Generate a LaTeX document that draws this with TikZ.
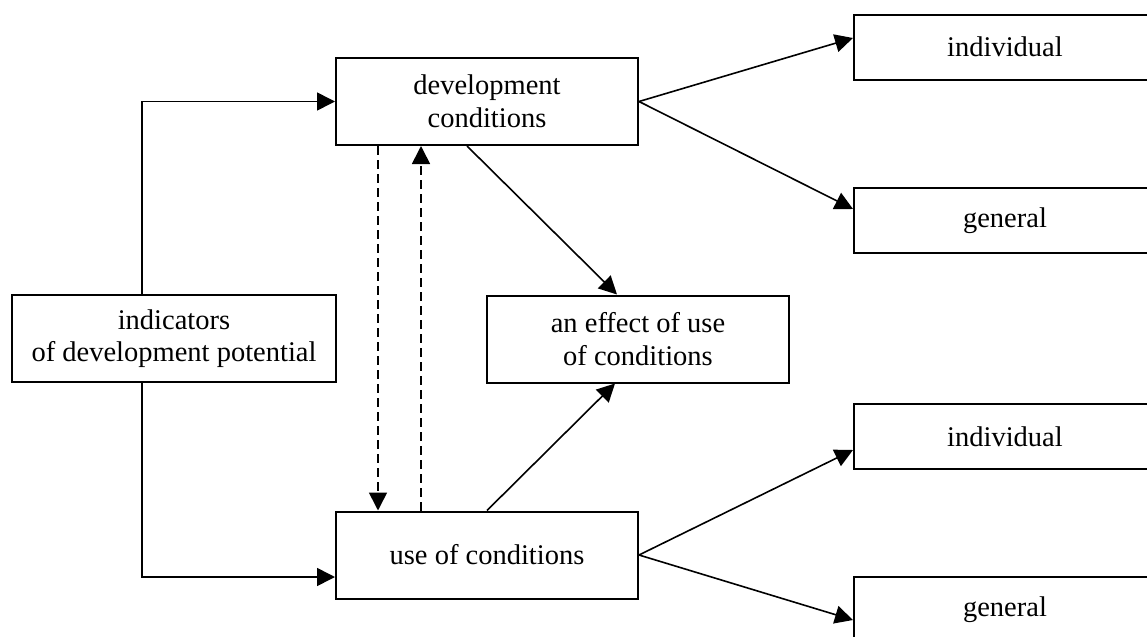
\documentclass[tikz,border=0pt]{standalone}
\usepackage{fontspec}
\setmainfont{Liberation Serif}
\usetikzlibrary{arrows.meta}

\begin{document}
\begin{tikzpicture}[x=0.5pt,y=-0.5pt,
    box/.style={draw,line width=1pt,minimum width=151pt,minimum height=43.5pt,inner sep=0pt,align=center,font=\fontsize{14.25}{16.3}\selectfont},
    leaf/.style={box,minimum height=32.5pt},
    arr/.style={line width=0.8pt,-{Triangle[length=9pt,width=9pt]}},
    dasharr/.style={arr,dash pattern=on 4.5pt off 2.5pt}]
    \useasboundingbox (0,0) rectangle (1147,637);
    \clip (0,0) rectangle (1147,637);
    \node[box] (dev) at (487,101.5) {development\\conditions};
    \node[box,minimum width=162pt] (ind) at (174,338.5) {indicators\\of development potential};
    \node[box] (eff) at (638,339) {an effect of use\\of conditions};
    \node[box] (use) at (487,555) {use of conditions};
    \node[leaf] (indtop) at (1005,47) {individual};
    \node[leaf] (gentop) at (1005,220.5) {general};
    \node[leaf] (indbot) at (1005,436.5) {individual};
    \node[leaf] (genbot) at (1005,609.5) {general};
    \draw[arr] ([xshift=-16pt]ind.north) |- (dev.west);
    \draw[arr] ([xshift=-16pt]ind.south) |- ([yshift=-11pt]use.west);
    \draw[dasharr] ([xshift=21.5pt]dev.south west) -- ([xshift=21.5pt]use.north west);
    \draw[dasharr] ([xshift=43pt]use.north west) -- ([xshift=43pt]dev.south west);
    \draw[arr] ([xshift=-10pt]dev.south) -- ([xshift=-10.5pt]eff.north);
    \draw[arr] (use.north) -- ([xshift=-11.5pt]eff.south);
    \draw[arr] (dev.east) -- ([yshift=4.5pt]indtop.west);
    \draw[arr] (dev.east) -- ([yshift=5.75pt]gentop.west);
    \draw[arr] (use.east) -- ([yshift=-6.75pt]indbot.west);
    \draw[arr] (use.east) -- ([yshift=-5.25pt]genbot.west);
\end{tikzpicture}
\end{document}
